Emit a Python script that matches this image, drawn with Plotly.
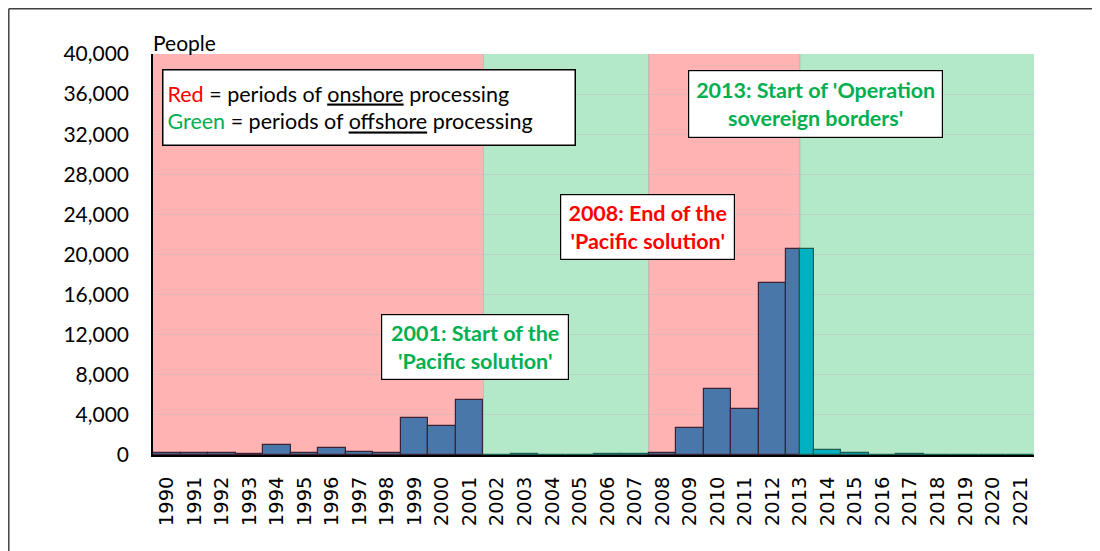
import plotly.graph_objects as go

years = [str(y) for y in range(1990, 2022)]
arrivals = [224, 214, 216, 81, 953, 237, 660, 339, 200, 3721, 2939, 5516,
            1, 53, 15, 11, 60, 148,
            161, 2726, 6555, 4565, 17202, 20587,
            450, 230, 30, 80, 20, 20, 20, 0]
# processing periods: 'on' = onshore (red), 'off' = offshore (green)
period_starts = ["1990", "2002", "2008", "2013.5"]
period_kinds = ["on", "off", "on", "off"]
y_ticks = list(range(0, 40001, 4000))

BLUE = "#4a77a9"
TEAL = "#00b1c1"
RED_BG = "#ffb3b3"
GREEN_BG = "#b3e9c9"

n = len(years)
idx = list(range(n))

def pos(label):
    return float(label) - 1990

bounds = [pos(s) - 0.5 for s in period_starts] + [n - 0.5]

def kind_at(v):
    for k in range(len(period_kinds)):
        if bounds[k] <= v < bounds[k + 1]:
            return period_kinds[k]
    return period_kinds[-1]

# page body has 8px margin -> figure is drawn offset by 8px
W, H = 1092, 543
L, T = 145, 46
PW, PH = 881, 401
R = W - L - PW
B = H - T - PH

def px(X):  # screen x -> paper
    return (X - 8 - L) / PW

def py(Y):  # screen y -> paper
    return (T + PH - (Y - 8)) / PH

fig = go.Figure()

shapes = []
for k, kind in enumerate(period_kinds):
    shapes.append(dict(type="rect", xref="x", yref="y", x0=bounds[k], x1=bounds[k + 1],
                       y0=0, y1=40000, fillcolor=RED_BG if kind == "on" else GREEN_BG,
                       line=dict(width=0), layer="below"))
for b in bounds[1:-1]:
    shapes.append(dict(type="line", xref="x", yref="y", x0=b, x1=b, y0=0, y1=40000,
                       line=dict(color="rgba(150,150,150,0.45)", width=1), layer="below"))
# outer frame (top and left edges)
fx = (0.8 - L) / PW
fy = (T + PH - 0.8) / PH
shapes.append(dict(type="line", xref="paper", yref="paper", x0=fx, x1=1.2, y0=fy, y1=fy,
                   line=dict(color="#404040", width=1.5)))
shapes.append(dict(type="line", xref="paper", yref="paper", x0=fx, x1=fx, y0=-0.4, y1=fy,
                   line=dict(color="#404040", width=1.5)))

bx, by, bw, bc, bl = [], [], [], [], []
for i in idx:
    lo, hi = i - 0.5, i + 0.5
    cuts = [lo] + [b for b in bounds if lo < b < hi] + [hi]
    for a, c in zip(cuts[:-1], cuts[1:]):
        kind = kind_at((a + c) / 2)
        bx.append((a + c) / 2)
        bw.append(c - a)
        by.append(arrivals[i])
        bc.append(BLUE if kind == "on" else TEAL)
        bl.append("#3a2434" if kind == "on" else "#1c5f52")

fig.add_trace(go.Bar(x=bx, y=by, width=bw, marker=dict(color=bc, line=dict(color=bl, width=1.2)),
                     showlegend=False, hoverinfo="skip"))

BODY = "Lato, 'Open Sans', sans-serif"
FS = 21.5
ann = []
ann.append(dict(xref="paper", yref="paper", x=px(368.5), y=py(107),
                text="<span style='color:#ff0000'>Red</span> = periods of <u>onshore</u> processing<br>"
                     "<span style='color:#00b050'>Green</span> = periods of <u>offshore</u> processing",
                showarrow=False, align="left", font=dict(family=BODY, size=FS, color="#000"),
                bgcolor="white", bordercolor="#000", borderwidth=1.5, borderpad=4,
                width=403, height=66, xanchor="center", yanchor="middle"))
ann.append(dict(xref="paper", yref="paper", x=px(475), y=py(347),
                text="<b>2001: Start of the<br>'Pacific solution'</b>",
                showarrow=False, align="center", font=dict(family=BODY, size=FS, color="#00b050"),
                bgcolor="white", bordercolor="#000", borderwidth=1.2, borderpad=4,
                width=178, height=56, xanchor="center", yanchor="middle"))
ann.append(dict(xref="paper", yref="paper", x=px(647.5), y=py(227),
                text="<b>2008: End of the<br>'Pacific solution'</b>",
                showarrow=False, align="center", font=dict(family=BODY, size=FS, color="#ff0000"),
                bgcolor="white", bordercolor="#000", borderwidth=1.2, borderpad=4,
                width=165, height=56, xanchor="center", yanchor="middle"))
ann.append(dict(xref="paper", yref="paper", x=px(815.5), y=py(104),
                text="<b>2013: Start of 'Operation<br>sovereign borders'</b>",
                showarrow=False, align="center", font=dict(family=BODY, size=FS, color="#00b050"),
                bgcolor="white", bordercolor="#000", borderwidth=1.2, borderpad=4,
                width=245, height=58, xanchor="center", yanchor="middle"))
ann.append(dict(xref="paper", yref="paper", x=px(151), y=py(42), text="People",
                showarrow=False, xanchor="left", yanchor="middle",
                font=dict(family=BODY, size=21, color="#000")))

fig.update_layout(
    width=W, height=H,
    margin=dict(l=L, r=R, t=T, b=B, pad=0),
    paper_bgcolor="white", plot_bgcolor="white",
    shapes=shapes, annotations=ann, bargap=0,
    xaxis=dict(range=[-0.5, n - 0.5], tickmode="array", tickvals=idx, ticktext=years,
               tickangle=-90, tickfont=dict(family="DejaVu Sans", size=19.5, color="#000"),
               showgrid=False, showline=True, linecolor="#000", linewidth=1.5,
               ticks="", zeroline=False, ticklabelstandoff=12),
    yaxis=dict(range=[0, 40000], tickmode="array", tickvals=y_ticks,
               ticktext=[f"{v:,}" for v in y_ticks],
               tickfont=dict(family=BODY, size=21, color="#000"),
               showgrid=True, gridcolor="rgba(190,190,190,0.5)", gridwidth=1,
               showline=True, linecolor="#000", linewidth=1.5, ticks="",
               zeroline=False, ticklabelstandoff=18),
)

fig.write_html("out.html")
